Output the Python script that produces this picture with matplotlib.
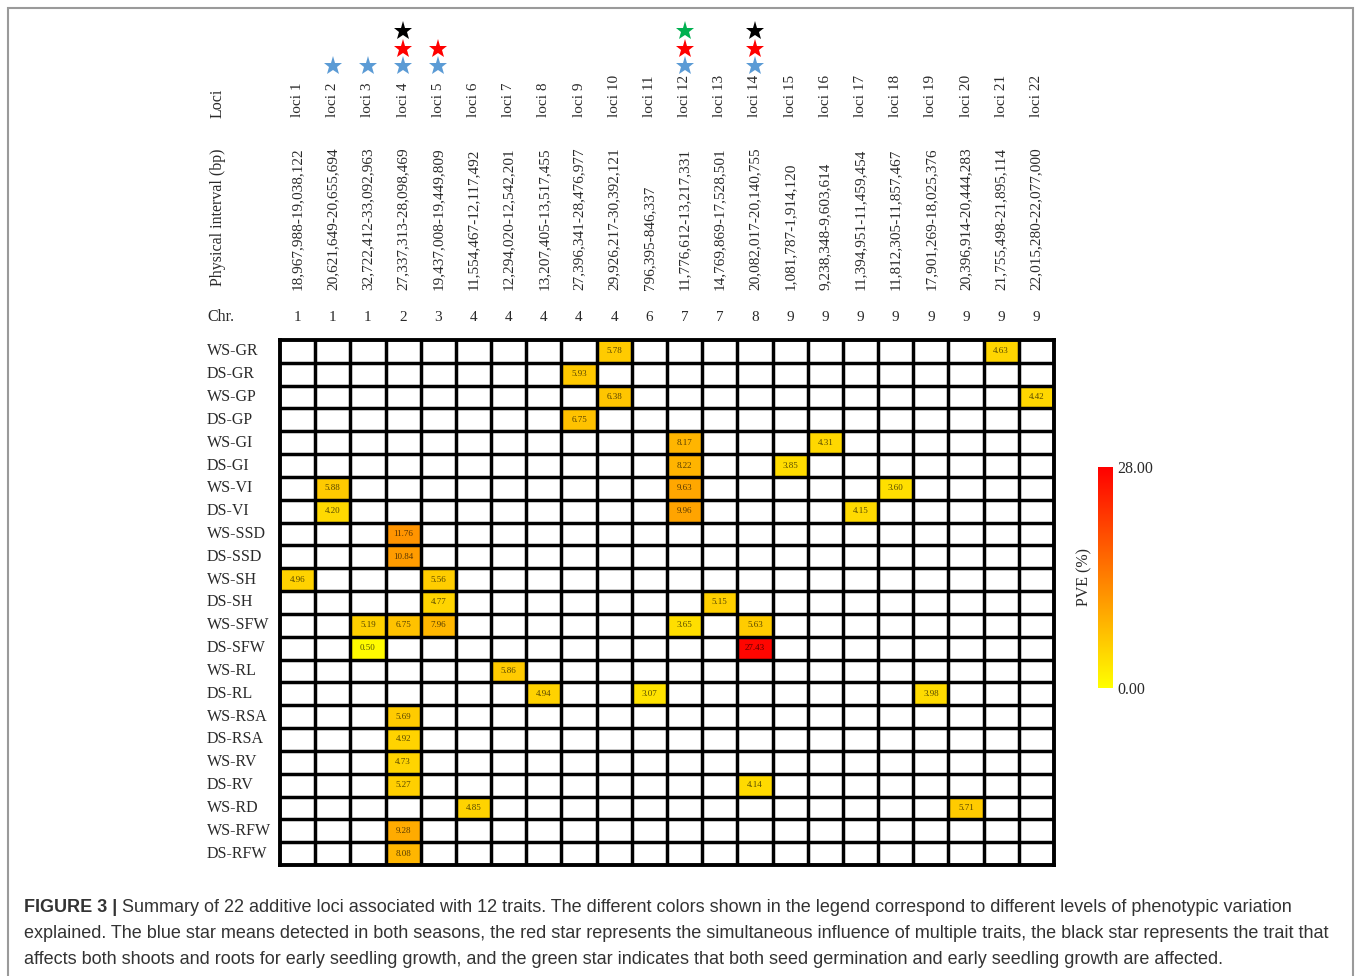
import numpy as np
import matplotlib
matplotlib.use('Agg')
import matplotlib.pyplot as plt
import matplotlib.transforms as mtransforms
from matplotlib.colors import LinearSegmentedColormap
from matplotlib.patches import Rectangle

# Fonts
plt.rcParams['font.family'] = 'serif'
plt.rcParams['font.serif'] = ['Liberation Serif', 'DejaVu Serif']

W, H = 1355, 976

# Data
traits = ['WS-GR', 'DS-GR', 'WS-GP', 'DS-GP', 'WS-GI', 'DS-GI', 'WS-VI', 'DS-VI',
          'WS-SSD', 'DS-SSD', 'WS-SH', 'DS-SH', 'WS-SFW', 'DS-SFW', 'WS-RL', 'DS-RL',
          'WS-RSA', 'DS-RSA', 'WS-RV', 'DS-RV', 'WS-RD', 'WS-RFW', 'DS-RFW']
loci = ['loci %d' % i for i in range(1, 23)]
intervals = ['18,967,988-19,038,122', '20,621,649-20,655,694', '32,722,412-33,092,963',
             '27,337,313-28,098,469', '19,437,008-19,449,809', '11,554,467-12,117,492',
             '12,294,020-12,542,201', '13,207,405-13,517,455', '27,396,341-28,476,977',
             '29,926,217-30,392,121', '796,395-846,337', '11,776,612-13,217,331',
             '14,769,869-17,528,501', '20,082,017-20,140,755', '1,081,787-1,914,120',
             '9,238,348-9,603,614', '11,394,951-11,459,454', '11,812,305-11,857,467',
             '17,901,269-18,025,376', '20,396,914-20,444,283', '21,755,498-21,895,114',
             '22,015,280-22,077,000']
chromosomes = [1, 1, 1, 2, 3, 4, 4, 4, 4, 4, 6, 7, 7, 8, 9, 9, 9, 9, 9, 9, 9, 9]

# significant hits: trait, locus number, PVE (%)
hit_trait = ['WS-GR', 'WS-GR', 'DS-GR', 'WS-GP', 'WS-GP', 'DS-GP',
             'WS-GI', 'WS-GI', 'DS-GI', 'DS-GI',
             'WS-VI', 'WS-VI', 'WS-VI', 'DS-VI', 'DS-VI', 'DS-VI',
             'WS-SSD', 'DS-SSD', 'WS-SH', 'WS-SH', 'DS-SH', 'DS-SH',
             'WS-SFW', 'WS-SFW', 'WS-SFW', 'WS-SFW', 'WS-SFW', 'DS-SFW', 'DS-SFW',
             'WS-RL', 'DS-RL', 'DS-RL', 'DS-RL', 'WS-RSA', 'DS-RSA', 'WS-RV',
             'DS-RV', 'DS-RV', 'WS-RD', 'WS-RD', 'WS-RFW', 'DS-RFW']
hit_locus = [10, 21, 9, 10, 22, 9,
             12, 16, 12, 15,
             2, 12, 18, 2, 12, 17,
             4, 4, 1, 5, 5, 13,
             3, 4, 5, 12, 14, 3, 14,
             7, 8, 11, 19, 4, 4, 4,
             4, 14, 6, 20, 4, 4]
hit_pve = [5.78, 4.63, 5.93, 6.38, 4.42, 6.75,
           8.17, 4.31, 8.22, 3.85,
           5.88, 9.63, 3.60, 4.20, 9.96, 4.15,
           11.76, 10.84, 4.96, 5.56, 4.77, 5.15,
           5.19, 6.75, 7.96, 3.65, 5.63, 0.50, 27.43,
           5.86, 4.94, 3.07, 3.98, 5.69, 4.92, 4.73,
           5.27, 4.14, 4.85, 5.71, 9.28, 8.08]

blue_star = [2, 3, 4, 5, 12, 14]
red_star = [4, 5, 12, 14]
black_star = [4, 14]
green_star = [12]

pve_min, pve_max = 0.0, 28.0

caption_lines = [
    'Summary of 22 additive loci associated with 12 traits. The different colors shown in the legend correspond to different levels of phenotypic variation',
    'explained. The blue star means detected in both seasons, the red star represents the simultaneous influence of multiple traits, the black star represents the trait that',
    'affects both shoots and roots for early seedling growth, and the green star indicates that both seed germination and early seedling growth are affected.',
]


def fx(px):
    return px / W


def fy(py):
    return 1 - py / H


nrow, ncol = len(traits), len(loci)
grid = np.full((nrow, ncol), np.nan)
for t, l, v in zip(hit_trait, hit_locus, hit_pve):
    grid[traits.index(t), l - 1] = v

cmap = LinearSegmentedColormap.from_list('pve', ['#FFFF00', '#FF0000'])

fig = plt.figure(figsize=(W / 100, H / 100), dpi=100)
ax = fig.add_axes([fx(280), fy(865), fx(1054) - fx(280), fy(340) - fy(865)])
ax.pcolormesh(np.arange(ncol + 1), np.arange(nrow + 1), np.ma.masked_invalid(grid),
              cmap=cmap, vmin=pve_min, vmax=pve_max)
ax.set_xlim(0, ncol)
ax.set_ylim(nrow, 0)
ax.vlines(np.arange(1, ncol), 0, nrow, color='black', lw=2.5)
ax.hlines(np.arange(1, nrow), 0, ncol, color='black', lw=2.5)
for s in ax.spines.values():
    s.set_linewidth(2.8)
ax.set_xticks([])
ax.set_yticks([])

for t, l, v in zip(hit_trait, hit_locus, hit_pve):
    ax.text(l - 0.5, traits.index(t) + 0.5, '%.2f' % v, ha='center', va='center',
            fontsize=6.5, color='black', alpha=0.65)

# row labels
row_tr = mtransforms.blended_transform_factory(fig.transFigure, ax.transData)
for i, t in enumerate(traits):
    ax.text(fx(207), i + 0.5, t, transform=row_tr, ha='left', va='center',
            fontsize=11.5, color='#2a2a2a')

# column header
col_tr = mtransforms.blended_transform_factory(ax.transData, fig.transFigure)
for j in range(ncol):
    x = j + 0.5
    ax.text(x, fy(117), loci[j], transform=col_tr, rotation=90, ha='center', va='bottom',
            fontsize=11, color='#2a2a2a')
    ax.text(x, fy(290), intervals[j], transform=col_tr, rotation=90, ha='center',
            va='bottom', fontsize=11, color='#2a2a2a')
    ax.text(x, fy(317), str(chromosomes[j]), transform=col_tr, ha='center', va='center',
            fontsize=11, color='#2a2a2a')

fig.text(fx(218), fy(103), 'Loci', rotation=90, ha='center', va='center',
         fontsize=11.5, color='#2a2a2a')
fig.text(fx(218), fy(217), 'Physical interval (bp)', rotation=90, ha='center',
         va='center', fontsize=11.5, color='#2a2a2a')
fig.text(fx(207), fy(317), 'Chr.', ha='left', va='center', fontsize=11.5, color='#2a2a2a')

# stars stacked above the loci labels
star_levels = [fy(66), fy(49), fy(31)]
for cols, color, level in [(blue_star, '#5B9BD5', 0), (red_star, '#FF0000', 1),
                           (black_star, 'black', 2), (green_star, '#00B050', 2)]:
    ax.plot(np.array(cols) - 0.5, [star_levels[level]] * len(cols), '*', color=color,
            markersize=14, markeredgewidth=0, transform=col_tr, clip_on=False)

# colorbar
cax = fig.add_axes([fx(1098), fy(688), fx(15), (688 - 467) / H])
sm = plt.cm.ScalarMappable(cmap=cmap, norm=plt.Normalize(pve_min, pve_max))
cb = fig.colorbar(sm, cax=cax, ticks=[pve_min, pve_max], format='%.2f')
cb.outline.set_visible(False)
cax.tick_params(length=0, labelsize=11.5, labelcolor='#2a2a2a', pad=3)
cax.yaxis.set_label_position('left')
cax.set_ylabel('PVE (%)', fontsize=11.5, color='#2a2a2a', labelpad=4)

# caption
cap_font = ['Liberation Sans', 'DejaVu Sans']
cap_size = 12.95
lines_y = [fy(908), fy(934), fy(959)]
bold = fig.text(fx(24), lines_y[0], 'FIGURE 3 |', family=cap_font, weight='bold',
                fontsize=cap_size, color='#333333', va='center')
fig.canvas.draw()
bb = bold.get_window_extent(fig.canvas.get_renderer())
fig.text(bb.x1 / W + fx(5), lines_y[0], caption_lines[0], family=cap_font,
         fontsize=cap_size, color='#333333', va='center')
for y, line in zip(lines_y[1:], caption_lines[1:]):
    fig.text(fx(24), y, line, family=cap_font, fontsize=cap_size, color='#333333',
             va='center')

# page frame
fig.patches.append(Rectangle((fx(8), -0.02), fx(1353) - fx(8), fy(8) + 0.02,
                             transform=fig.transFigure, fill=False,
                             edgecolor='#9a9a9a', lw=1.5))

fig.savefig('out.png', dpi=100, facecolor='white')
